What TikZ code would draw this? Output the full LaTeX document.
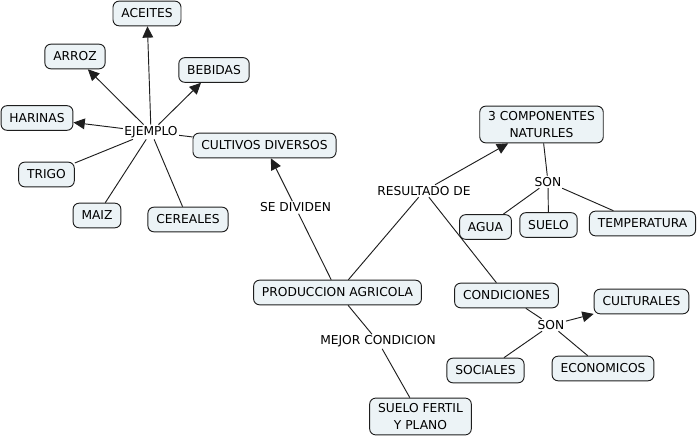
\documentclass[tikz,border=0pt]{standalone}
\usepackage{fontspec}
\setmainfont{DejaVu Sans}
\usetikzlibrary{arrows.meta}
\definecolor{cfill}{RGB}{236,243,246}
\definecolor{cline}{RGB}{30,30,30}
\begin{document}
\begin{tikzpicture}[x=0.75pt,y=-0.75pt,
  concept/.style={draw=cline,fill=cfill,rounded corners=4.5pt,line width=0.7pt,
    font=\fontsize{9.2}{12.6}\selectfont,inner xsep=6.3pt,inner ysep=2.5pt,
    minimum height=18.5pt,align=center},
  twoline/.style={inner ysep=4pt},
  phrase/.style={font=\fontsize{9.2}{11.2}\selectfont,inner sep=1pt},
  conn/.style={draw=cline,line width=0.7pt},
  arr/.style={conn,-{Triangle[length=8.5pt,width=8pt]}}]
\useasboundingbox (0,0) rectangle (698,438);
% concepts
\node[concept] (aceites) at (147,13.5) {ACEITES};
\node[concept] (arroz) at (75,56.5) {ARROZ};
\node[concept] (bebidas) at (214,70) {BEBIDAS};
\node[concept] (harinas) at (37,118) {HARINAS};
\node[concept] (trigo) at (46.5,174.5) {TRIGO};
\node[concept] (maiz) at (97,215.5) {MAIZ};
\node[concept] (cereales) at (188,219.5) {CEREALES};
\node[concept] (cultivos) at (264.5,145.5) {CULTIVOS DIVERSOS};
\node[concept] (produccion) at (337.5,292.5) {PRODUCCION AGRICOLA};
\node[concept,twoline] (componentes) at (541.5,124.5) {3 COMPONENTES\\NATURLES};
\node[concept] (agua) at (485.5,227) {AGUA};
\node[concept] (suelo) at (548.5,225) {SUELO};
\node[concept] (temperatura) at (642.5,223.5) {TEMPERATURA};
\node[concept] (condiciones) at (506.5,295.5) {CONDICIONES};
\node[concept] (culturales) at (641.5,301.5) {CULTURALES};
\node[concept] (sociales) at (485.5,370.5) {SOCIALES};
\node[concept] (economicos) at (603,368.5) {ECONOMICOS};
\node[concept,twoline] (suelofertil) at (420.5,416.5) {SUELO FERTIL\\Y PLANO};
% linking phrases
\node[phrase] (ejemplo) at (151,132) {EJEMPLO};
\node[phrase] (sedividen) at (295.5,207.5) {SE DIVIDEN};
\node[phrase] (resultado) at (424,191) {RESULTADO DE};
\node[phrase] (sontop) at (548,182) {SON};
\node[phrase] (sonbot) at (551,325) {SON};
\node[phrase] (mejor) at (378,341.5) {MEJOR CONDICION};
% connectors
\draw[conn] (cultivos) -- (ejemplo);
\draw[arr] (ejemplo) -- (aceites);
\draw[arr] (ejemplo) -- (arroz);
\draw[arr] (ejemplo) -- (bebidas);
\draw[arr] (ejemplo) -- (harinas);
\draw[conn] (ejemplo) -- (trigo);
\draw[conn] (ejemplo) -- (maiz);
\draw[conn] (ejemplo) -- (cereales);
\draw[conn] (produccion) -- (sedividen);
\draw[arr] (sedividen) -- (cultivos);
\draw[conn] (produccion) -- (resultado);
\draw[arr] (resultado) -- (componentes);
\draw[conn] (resultado) -- (condiciones);
\draw[conn] (componentes) -- (sontop);
\draw[conn] (sontop) -- (agua);
\draw[conn] (sontop) -- (suelo);
\draw[conn] (sontop) -- (temperatura);
\draw[conn] (condiciones) -- (sonbot);
\draw[arr] (sonbot) -- (culturales);
\draw[conn] (sonbot) -- (sociales);
\draw[conn] (sonbot) -- (economicos);
\draw[conn] (produccion) -- (mejor);
\draw[conn] (mejor) -- (suelofertil);
\end{tikzpicture}
\end{document}
